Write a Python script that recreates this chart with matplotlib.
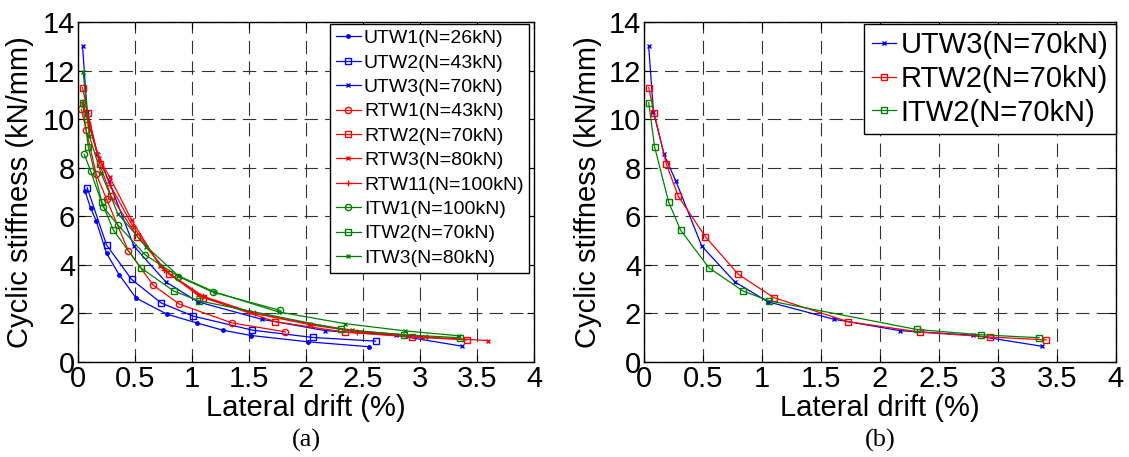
import matplotlib
matplotlib.use('Agg')
import matplotlib.pyplot as plt

plt.rcParams['font.family'] = ['Liberation Sans', 'DejaVu Sans']

# data
utw1_x = [0.06, 0.11, 0.16, 0.25, 0.36, 0.51, 0.78, 1.04, 1.27, 1.52, 2.02, 2.55]
utw1_y = [7.05, 6.35, 5.8, 4.48, 3.6, 2.63, 1.97, 1.61, 1.31, 1.09, 0.83, 0.63]
utw2_x = [0.08, 0.25, 0.47, 0.73, 1.01, 1.53, 2.06, 2.61]
utw2_y = [7.18, 4.82, 3.4, 2.43, 1.89, 1.31, 1.01, 0.86]
utw3_x = [0.04, 0.08, 0.17, 0.27, 0.49, 0.77, 1.05, 1.61, 2.17, 2.79, 3.37]
utw3_y = [13.0, 10.3, 8.55, 7.45, 4.77, 3.3, 2.48, 1.76, 1.29, 1.10, 0.65]
rtw1_x = [0.03, 0.07, 0.16, 0.25, 0.44, 0.66, 0.89, 1.35, 1.82]
rtw1_y = [10.4, 9.57, 7.73, 6.71, 4.59, 3.16, 2.38, 1.61, 1.24]
rtw2_x = [0.04, 0.085, 0.19, 0.29, 0.52, 0.80, 1.10, 1.73, 2.34, 2.93, 3.41]
rtw2_y = [11.3, 10.26, 8.15, 6.83, 5.16, 3.61, 2.65, 1.66, 1.23, 1.03, 0.91]
rtw3_x = [0.04, 0.1, 0.18, 0.28, 0.47, 0.72, 1.05, 1.5, 2.03, 2.4, 3.02, 3.6]
rtw3_y = [10.6, 9.7, 8.4, 7.6, 5.85, 3.95, 2.75, 2.05, 1.58, 1.31, 1.04, 0.88]
rtw11_x = [0.04, 0.09, 0.17, 0.28, 0.48, 0.75, 1.1, 1.55, 2.05, 2.45, 3.06]
rtw11_y = [10.7, 9.9, 8.6, 7.3, 5.6, 3.8, 2.7, 2.0, 1.52, 1.25, 1.02]
itw1_x = [0.055, 0.11, 0.22, 0.35, 0.59, 0.88, 1.18, 1.77]
itw1_y = [8.55, 7.87, 6.39, 5.64, 4.41, 3.52, 2.88, 2.13]
itw2_x = [0.04, 0.09, 0.21, 0.31, 0.55, 0.84, 1.06, 2.31, 2.86, 3.35]
itw2_y = [10.68, 8.86, 6.57, 5.43, 3.88, 2.92, 2.52, 1.34, 1.12, 1.00]
itw3_x = [0.045, 0.1, 0.2, 0.35, 0.6, 0.88, 1.2, 1.76, 2.34, 2.87, 3.34]
itw3_y = [11.95, 9.3, 7.8, 6.1, 4.75, 3.55, 2.88, 2.06, 1.58, 1.28, 1.08]

xticks = [0, 0.5, 1, 1.5, 2, 2.5, 3, 3.5, 4]
xticklabels = ['0', '0.5', '1', '1.5', '2', '2.5', '3', '3.5', '4']
yticks = [0, 2, 4, 6, 8, 10, 12, 14]

blue = (0, 0, 1)
red = (1, 0, 0)
green = (0, 0.5, 0)

fig = plt.figure(figsize=(11.29, 4.57), dpi=100)
ax1 = fig.add_axes([0.0691, 0.2079, 0.4039, 0.744])
ax2 = fig.add_axes([0.5704, 0.2079, 0.418, 0.744])

lw = 0.9
ms = 4.5

# (a)
ax1.plot(utw1_x, utw1_y, '.-', color=blue, lw=lw, ms=5, label='UTW1(N=26kN)')
ax1.plot(utw2_x, utw2_y, 's-', color=blue, lw=lw, ms=ms, mfc='none', label='UTW2(N=43kN)')
ax1.plot(utw3_x, utw3_y, 'x-', color=blue, lw=lw, ms=3, label='UTW3(N=70kN)')
ax1.plot(rtw1_x, rtw1_y, 'o-', color=red, lw=lw, ms=ms, mfc='none', label='RTW1(N=43kN)')
ax1.plot(rtw2_x, rtw2_y, 's-', color=red, lw=lw, ms=ms, mfc='none', label='RTW2(N=70kN)')
ax1.plot(rtw3_x, rtw3_y, 'x-', color=red, lw=lw, ms=3, label='RTW3(N=80kN)')
ax1.plot(rtw11_x, rtw11_y, '+-', color=red, lw=lw, ms=5, label='RTW11(N=100kN)')
ax1.plot(itw1_x, itw1_y, 'o-', color=green, lw=lw, ms=ms, mfc='none', label='ITW1(N=100kN)')
ax1.plot(itw2_x, itw2_y, 's-', color=green, lw=lw, ms=ms, mfc='none', label='ITW2(N=70kN)')
ax1.plot(itw3_x, itw3_y, 'x-', color=green, lw=lw, ms=3, label='ITW3(N=80kN)')

# (b)
ax2.plot(utw3_x, utw3_y, 'x-', color=blue, lw=lw, ms=3.5, label='UTW3(N=70kN)')
ax2.plot(rtw2_x, rtw2_y, 's-', color=red, lw=lw, ms=ms, mfc='none', label='RTW2(N=70kN)')
ax2.plot(itw2_x, itw2_y, 's-', color=green, lw=lw, ms=ms, mfc='none', label='ITW2(N=70kN)')

for ax, lab in [(ax1, '(a)'), (ax2, '(b)')]:
    ax.set_xlim(0, 4)
    ax.set_ylim(0, 14)
    ax.set_xticks(xticks)
    ax.set_xticklabels(xticklabels)
    ax.set_yticks(yticks)
    ax.tick_params(direction='in', length=5, width=0.8, labelsize=21,
                   top=True, right=True, pad=2)
    ax.grid(True, color='0.2', linestyle=(0, (12, 6.5)), linewidth=0.8)
    for s in ax.spines.values():
        s.set_linewidth(1.0)
    ax.set_xlabel('Lateral drift (%)', fontsize=21)
    ax.set_ylabel('Cyclic stiffness (kN/mm)', fontsize=21)
    ax.xaxis.set_label_coords(0.5, -0.093)
    ax.text(0.5, -0.232, lab, transform=ax.transAxes, ha='center', va='center',
            fontsize=19, family=['Liberation Serif'])

ax1.yaxis.set_label_coords(-0.097, 0.5)
ax2.yaxis.set_label_coords(-0.09, 0.5)

leg1 = ax1.legend(loc='upper right', bbox_to_anchor=(0.99, 0.995), fontsize=14,
                  handlelength=1.3, handletextpad=0.15, labelspacing=0.35,
                  borderpad=0.3, borderaxespad=0.0, fancybox=False, framealpha=1)
leg1.get_frame().set_edgecolor('k')
leg1.get_frame().set_linewidth(1.0)

leg2 = ax2.legend(loc='upper right', bbox_to_anchor=(1.0, 0.995), fontsize=21,
                  handlelength=0.85, handletextpad=0.15, labelspacing=0.2,
                  borderpad=0.25, borderaxespad=0.0, fancybox=False, framealpha=1)
leg2.get_frame().set_edgecolor('k')
leg2.get_frame().set_linewidth(1.0)

fig.savefig('out.png', dpi=100)
